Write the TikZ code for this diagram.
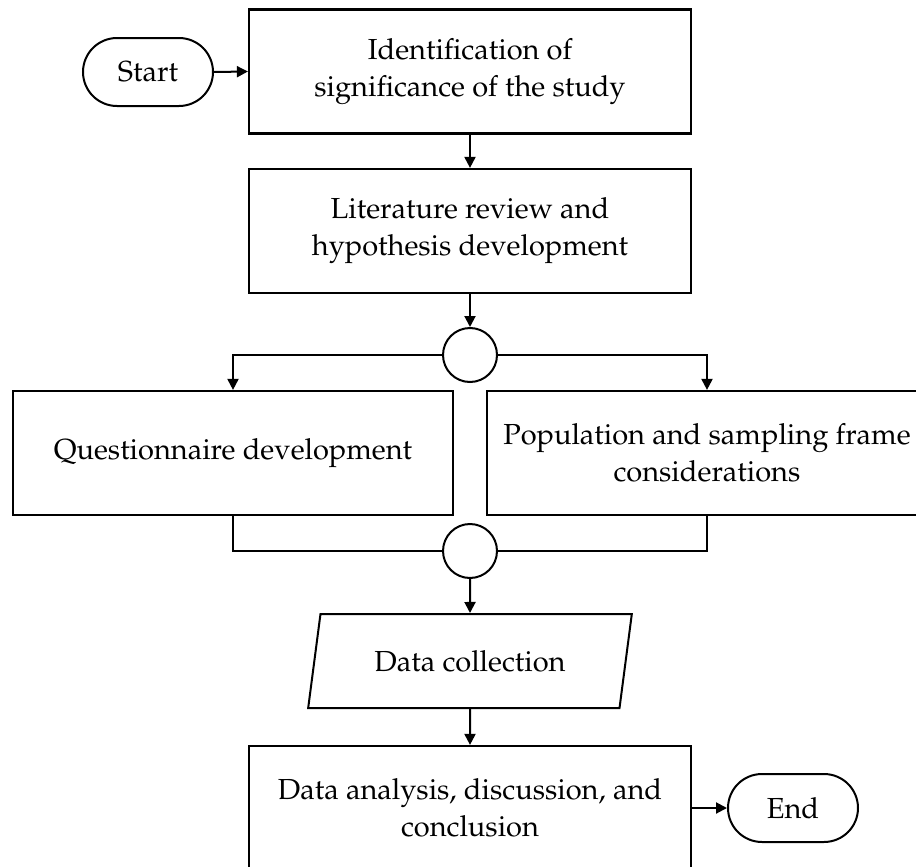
\documentclass[tikz,border=0pt]{standalone}
\usepackage[T1]{fontenc}
\renewcommand{\rmdefault}{ppl}
\usetikzlibrary{shapes.geometric,shapes.misc,arrows.meta}
\tikzset{
  lbl/.style={font=\fontsize{14.5}{18.5}\selectfont, align=center, inner sep=0pt},
  procbox/.style={lbl, draw, line width=1.1pt, minimum width=221pt, minimum height=62pt},
  sidebox/.style={lbl, draw, line width=1.1pt, minimum width=220pt, minimum height=62pt},
  term/.style={lbl, draw, line width=1pt, rounded rectangle, minimum width=65pt, minimum height=34pt},
  joint/.style={draw, circle, line width=1pt, minimum size=27pt, inner sep=0pt},
  iobox/.style={lbl, draw, line width=1pt, trapezium, trapezium left angle=70, trapezium right angle=110, trapezium stretches=true, minimum width=162pt, minimum height=47pt},
  conn/.style={line width=1pt},
  arr/.style={conn, -{Triangle[length=5.5pt,width=5.5pt]}}
}
\begin{document}
\begin{tikzpicture}[x=0.5pt,y=-0.5pt]
\useasboundingbox (0,0) rectangle (916,867);
\clip (0,0) rectangle (916,867);
\node[term] (start) at (148,72) {Start};
\node[procbox] (b1) at (470,71.5) {Identification of\\significance of the study};
\node[procbox] (b2) at (470,231) {Literature review and\\hypothesis development};
\node[joint] (c1) at (470,355) {};
\node[sidebox] (b3) at (233,453) {Questionnaire development};
\node[sidebox] (b4) at (707,453) {Population and sampling frame\\considerations};
\node[joint] (c2) at (470,551) {};
\node[iobox] (dc) at (470,661) {Data collection};
\node[procbox] (b5) at (470,808) {Data analysis, discussion, and\\conclusion};
\node[term] (end) at (793,808) {End};

\draw[arr] (start.east) -- (b1.west);
\draw[arr] (b1.south) -- (b2.north);
\draw[arr] (b2.south) -- (c1.north);
\draw[arr] (c1.west) -| (b3.north);
\draw[arr] (c1.east) -| (b4.north);
\draw[conn] (b3.south) |- (c2.west);
\draw[conn] (b4.south) |- (c2.east);
\draw[arr] (c2.south) -- (dc.north);
\draw[arr] (dc.south) -- (b5.north);
\draw[arr] (b5.east) -- (end.west);
\end{tikzpicture}
\end{document}
